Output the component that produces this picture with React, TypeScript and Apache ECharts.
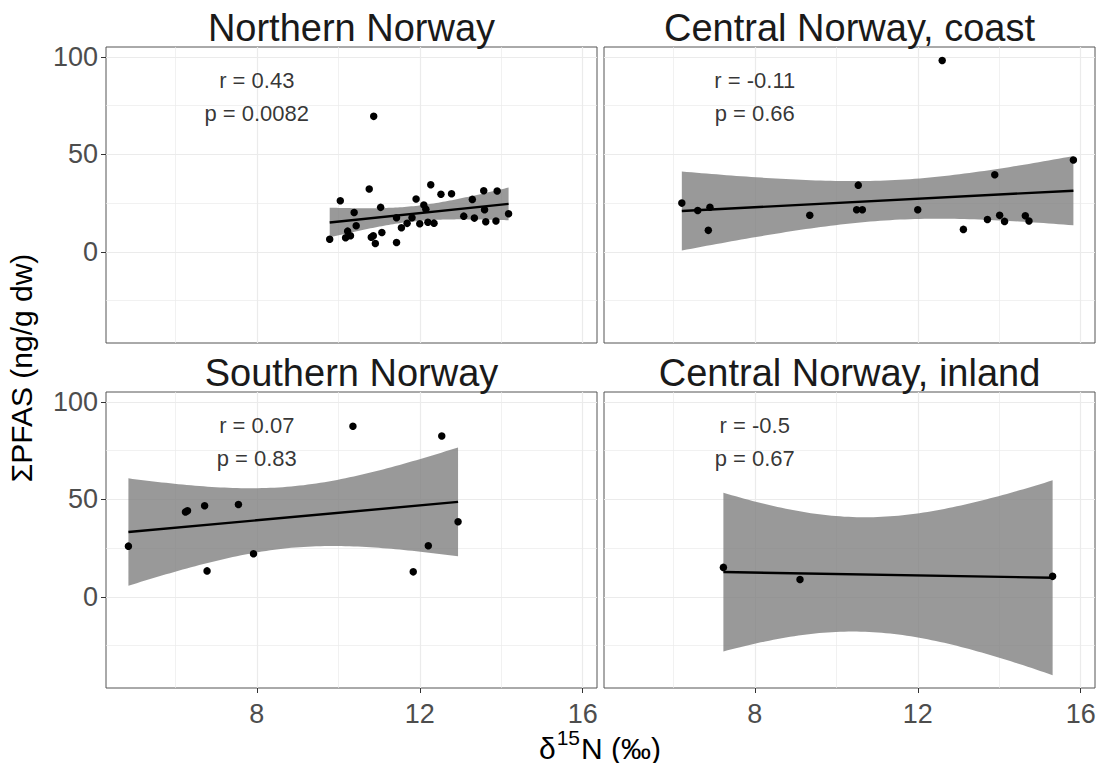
import React, { useEffect, useRef } from "react";
import * as echarts from "echarts";

// Facet titles, in panel order: top-left, top-right, bottom-left, bottom-right
const panelTitles = [
  "Northern Norway",
  "Central Norway, coast",
  "Southern Norway",
  "Central Norway, inland",
];

// δ15N (‰) and ΣPFAS (ng/g dw) per region
const northernX = [
  9.79, 10.05, 10.76, 10.39, 10.44, 10.23, 10.18, 10.3, 10.81, 10.86, 10.91, 11.07, 11.04,
  11.43, 11.43, 11.55, 11.69, 11.81, 11.91, 12.0, 12.1, 12.15, 12.2, 12.35, 12.27, 12.52,
  12.78, 13.08, 13.34, 13.29, 13.57, 13.59, 13.62, 13.87, 13.9, 14.18, 10.87,
];
const northernY = [
  6.4, 26.2, 32.2, 20.2, 13.4, 10.6, 7.2, 8.2, 7.5, 8.2, 4.3, 9.9, 22.8,
  17.5, 4.8, 12.3, 14.6, 17.5, 27.1, 14.4, 24.0, 21.9, 15.2, 14.7, 34.4, 29.5,
  29.8, 18.3, 17.3, 26.9, 31.3, 21.6, 15.4, 15.8, 31.2, 19.5, 69.5,
];

const coastX = [
  6.21, 6.6, 6.9, 6.86, 9.35, 10.54, 10.5, 10.64, 12.0, 12.6, 13.12, 13.71, 13.89, 14.01,
  14.13, 14.64, 14.73, 15.82,
];
const coastY = [
  25.0, 21.2, 22.9, 11.0, 18.8, 34.2, 21.6, 21.6, 21.6, 98.2, 11.5, 16.6, 39.5, 18.7,
  15.6, 18.5, 15.8, 47.1,
];

const southernX = [4.85, 6.25, 6.3, 6.72, 6.78, 7.55, 7.92, 10.36, 11.84, 12.21, 12.54, 12.94];
const southernY = [26.0, 43.5, 44.2, 46.7, 13.3, 47.4, 22.1, 87.5, 12.8, 26.2, 82.5, 38.5];

const inlandX = [7.23, 9.11, 15.31];
const inlandY = [15.1, 8.9, 10.5];

// Spearman correlation labels
const rLabels = ["r = 0.43", "r = -0.11", "r = 0.07", "r = -0.5"];
const pLabels = ["p = 0.0082", "p = 0.66", "p = 0.83", "p = 0.67"];
const labelX = 8;
const rLabelY = 88;
const pLabelY = 71;

// Axis scales and tick values
const xRange = [4.3, 16.35];
const yRange = [-46.8, 105.1];
const xTicks = [8, 12, 16];
const xMinorTicks = [6, 10, 14];
const yTicks = [0, 50, 100];
const yMinorTicks = [-25, 25, 75];

const FONT = "'Liberation Sans', Arial, Helvetica, sans-serif";

// two-sided 95% Student t quantiles
const T975: Record<number, number> = { 1: 12.7062, 10: 2.2281, 16: 2.1199, 35: 2.0301 };
function tQuantile(df: number): number {
  if (T975[df]) return T975[df];
  const z = 1.959964;
  return (
    z +
    (z ** 3 + z) / (4 * df) +
    (5 * z ** 5 + 16 * z ** 3 + 3 * z) / (96 * df * df) +
    (3 * z ** 7 + 19 * z ** 5 + 17 * z ** 3 - 15 * z) / (384 * df ** 3)
  );
}

// Least-squares line with its 95% confidence band
function linearFit(xs: number[], ys: number[], steps = 80) {
  const n = xs.length;
  const mx = xs.reduce((s, v) => s + v, 0) / n;
  const my = ys.reduce((s, v) => s + v, 0) / n;
  let sxx = 0;
  let sxy = 0;
  for (let i = 0; i < n; i++) {
    sxx += (xs[i] - mx) ** 2;
    sxy += (xs[i] - mx) * (ys[i] - my);
  }
  const b = sxy / sxx;
  const a = my - b * mx;
  let sse = 0;
  for (let i = 0; i < n; i++) sse += (ys[i] - (a + b * xs[i])) ** 2;
  const s = Math.sqrt(sse / (n - 2));
  const t = tQuantile(n - 2);
  const lo = Math.min(...xs);
  const hi = Math.max(...xs);
  const band: number[][] = [];
  for (let k = 0; k < steps; k++) {
    const x = lo + ((hi - lo) * k) / (steps - 1);
    const f = a + b * x;
    const se = s * Math.sqrt(1 / n + (x - mx) ** 2 / sxx);
    band.push([x, f - t * se, f + t * se]);
  }
  return {
    line: [
      [lo, a + b * lo],
      [hi, a + b * hi],
    ],
    band,
  };
}

const panelData = [
  [northernX, northernY],
  [coastX, coastY],
  [southernX, southernY],
  [inlandX, inlandY],
];

// panel boxes (pixels)
const gridBoxes = [
  { left: 106, top: 47 },
  { left: 604, top: 47 },
  { left: 106, top: 392 },
  { left: 604, top: 392 },
];
const GRID_W = 491;
const GRID_H = 296;

function buildOption() {
  const grid = gridBoxes.map((g) => ({
    left: g.left,
    top: g.top,
    width: GRID_W,
    height: GRID_H,
    show: true,
    backgroundColor: "#ffffff",
    borderColor: "#555555",
    borderWidth: 1,
    containLabel: false,
    outerBoundsMode: "none",
  }));

  const xAxis: any[] = [];
  const yAxis: any[] = [];
  for (let i = 0; i < 4; i++) {
    const bottom = i >= 2;
    const left = i % 2 === 0;
    xAxis.push({
      type: "value",
      gridIndex: i,
      min: xRange[0],
      max: xRange[1],
      position: "bottom",
      axisLine: { show: false, onZero: false },
      axisTick: {
        show: bottom,
        length: 5,
        lineStyle: { color: "#333333", width: 1 },
        customValues: xTicks,
      },
      axisLabel: {
        show: bottom,
        customValues: xTicks,
        fontSize: 27,
        color: "#4d4d4d",
        fontFamily: FONT,
        margin: 12,
      },
      splitLine: { show: true, lineStyle: { color: "#ebebeb", width: 1.2 } },
    });
    yAxis.push({
      type: "value",
      gridIndex: i,
      min: yRange[0],
      max: yRange[1],
      position: "left",
      axisLine: { show: false, onZero: false },
      axisTick: {
        show: left,
        length: 5,
        lineStyle: { color: "#333333", width: 1 },
        customValues: yTicks,
      },
      axisLabel: {
        show: left,
        customValues: yTicks,
        fontSize: 27,
        color: "#4d4d4d",
        fontFamily: FONT,
        margin: 8,
      },
      splitLine: { show: true, lineStyle: { color: "#ebebeb", width: 1.2 } },
    });
  }
  // thinner minor grid lines on companion axes
  for (let i = 0; i < 4; i++) {
    xAxis.push({
      type: "value",
      gridIndex: i,
      min: xRange[0],
      max: xRange[1],
      position: "top",
      axisLine: { show: false, onZero: false },
      axisTick: { show: false, customValues: xMinorTicks },
      axisLabel: { show: false },
      splitLine: { show: true, lineStyle: { color: "#ebebeb", width: 0.7 } },
    });
    yAxis.push({
      type: "value",
      gridIndex: i,
      min: yRange[0],
      max: yRange[1],
      position: "right",
      axisLine: { show: false, onZero: false },
      axisTick: { show: false, customValues: yMinorTicks },
      axisLabel: { show: false },
      splitLine: { show: true, lineStyle: { color: "#ebebeb", width: 0.7 } },
    });
  }

  const series: any[] = [];
  panelData.forEach(([xs, ys], i) => {
    const fit = linearFit(xs, ys);
    const band = fit.band;
    series.push({
      type: "custom",
      xAxisIndex: i,
      yAxisIndex: i,
      z: 2,
      silent: true,
      data: band,
      encode: { x: 0, y: [1, 2] },
      renderItem: (params: any, api: any) => {
        if (params.dataIndex !== 0) return null;
        const upper = band.map((p) => api.coord([p[0], p[2]]));
        const lower = band
          .slice()
          .reverse()
          .map((p) => api.coord([p[0], p[1]]));
        return {
          type: "polygon",
          shape: { points: upper.concat(lower) },
          style: { fill: "rgba(128,128,128,0.8)" },
        };
      },
    });
    series.push({
      type: "line",
      xAxisIndex: i,
      yAxisIndex: i,
      z: 3,
      silent: true,
      data: fit.line,
      showSymbol: false,
      symbol: "none",
      lineStyle: { color: "#000000", width: 2.4 },
    });
    series.push({
      type: "scatter",
      xAxisIndex: i,
      yAxisIndex: i,
      z: 4,
      silent: true,
      symbolSize: 7.5,
      itemStyle: { color: "#000000", opacity: 1 },
      data: xs.map((x, k) => [x, ys[k]]),
    });
    series.push({
      type: "scatter",
      xAxisIndex: i,
      yAxisIndex: i,
      z: 5,
      silent: true,
      symbolSize: 1,
      itemStyle: { color: "rgba(0,0,0,0)" },
      data: [
        { value: [labelX, rLabelY], name: rLabels[i] },
        { value: [labelX, pLabelY], name: pLabels[i] },
      ],
      label: {
        show: true,
        position: "inside",
        formatter: (p: any) => p.name,
        fontSize: 22,
        color: "#000000",
        fontFamily: FONT,
      },
    });
  });

  const graphic: any[] = gridBoxes.map((g, i) => ({
    type: "text",
    x: g.left + GRID_W / 2,
    y: g.top - 19,
    silent: true,
    style: {
      text: panelTitles[i],
      font: `38px ${FONT}`,
      fill: "#1a1a1a",
      align: "center",
      verticalAlign: "middle",
    },
  }));
  graphic.push({
    type: "text",
    x: 21,
    y: 368,
    rotation: Math.PI / 2,
    silent: true,
    style: {
      text: "ΣPFAS (ng/g dw)",
      font: `30px ${FONT}`,
      fill: "#000000",
      align: "center",
      verticalAlign: "middle",
    },
  });
  graphic.push({
    type: "text",
    x: 600,
    y: 745,
    silent: true,
    style: {
      text: "{a|δ}{s|15}{a|N (‰)}",
      align: "center",
      verticalAlign: "middle",
      fill: "#000000",
      rich: {
        a: { fontSize: 30, fontFamily: FONT, lineHeight: 36, verticalAlign: "bottom" },
        s: { fontSize: 21, fontFamily: FONT, lineHeight: 36, verticalAlign: "top", padding: [0, 1, 0, 1] },
      },
    },
  });

  return {
    animation: false,
    backgroundColor: "#ffffff",
    textStyle: { fontFamily: FONT },
    grid,
    xAxis,
    yAxis,
    series,
    graphic,
  };
}

export default function App() {
  const ref = useRef<HTMLDivElement>(null);
  useEffect(() => {
    if (!ref.current) return;
    const chart = echarts.init(ref.current, undefined, { renderer: "svg" });
    chart.setOption(buildOption() as any);
    return () => chart.dispose();
  }, []);
  return (
    <div
      ref={ref}
      style={{ position: "fixed", left: 0, top: 0, width: 1101, height: 763, background: "#fff" }}
    />
  );
}
